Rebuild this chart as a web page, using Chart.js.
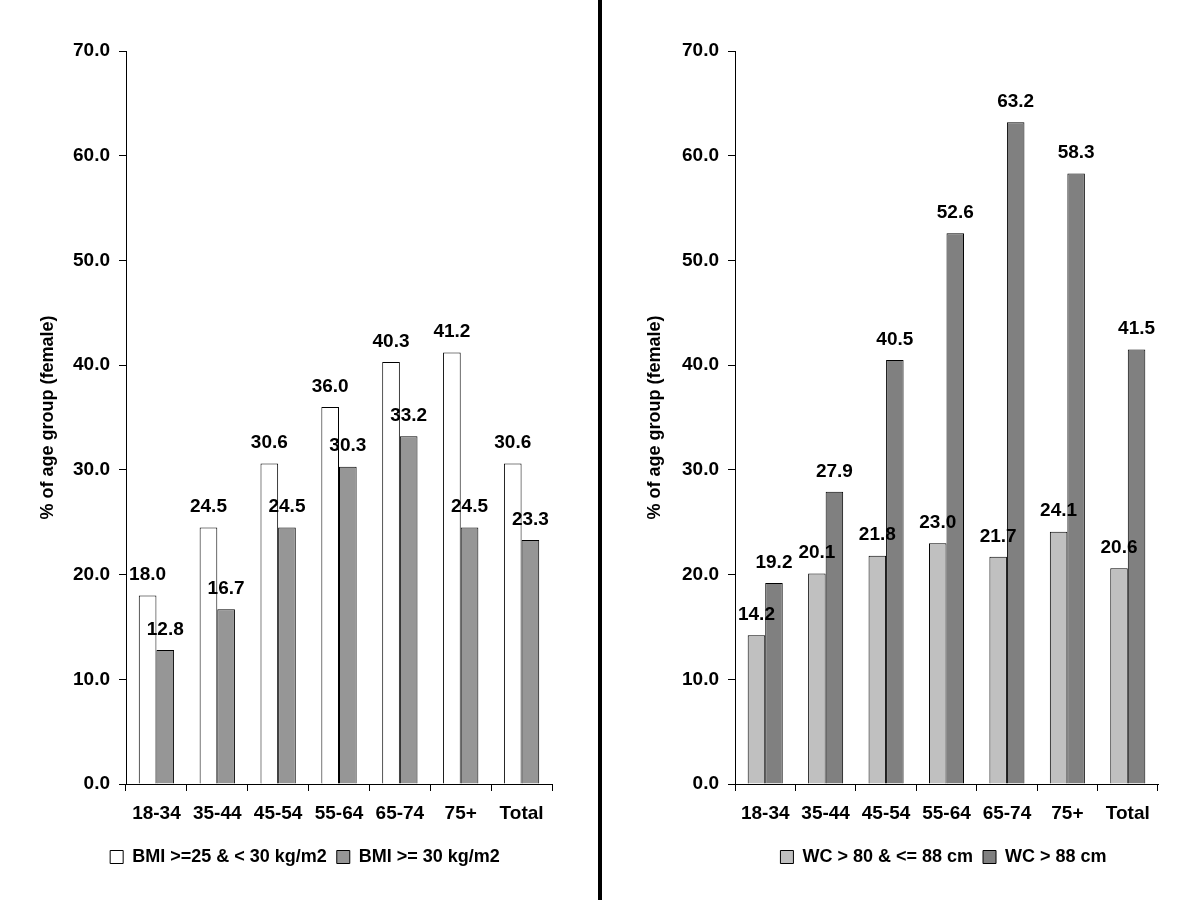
<!DOCTYPE html>
<html>
<head>
<meta charset="utf-8">
<script src="https://cdn.jsdelivr.net/npm/chart.js@4.4.0/dist/chart.umd.min.js"></script>
<style>
    body { margin: 0; background: #fff; }
    #wrap { position: relative; width: 1200px; height: 900px; }
    .box { position: absolute; top: 0; width: 600px; height: 900px; }
    #divider { position: absolute; left: 598px; top: 0; width: 4px; height: 900px; background: #000; }
</style>
</head>
<body>
<div id="wrap">
    <div class="box" style="left:0"><canvas id="bmiChart"></canvas></div>
    <div class="box" style="left:600px"><canvas id="wcChart"></canvas></div>
    <div id="divider"></div>
</div>
<script>
const ageGroups = ['18-34', '35-44', '45-54', '55-64', '65-74', '75+', 'Total'];
const yTicks = [0, 10, 20, 30, 40, 50, 60, 70];

const bmiLabels = ['BMI >=25 & < 30 kg/m2', 'BMI >= 30 kg/m2'];
const bmiOverweight = [18.0, 24.5, 30.6, 36.0, 40.3, 41.2, 30.6];
const bmiObese = [12.8, 16.7, 24.5, 30.3, 33.2, 24.5, 23.3];

const wcLabels = ['WC > 80 & <= 88 cm', 'WC > 88 cm'];
const wcModerate = [14.2, 20.1, 21.8, 23.0, 21.7, 24.1, 20.6];
const wcHigh = [19.2, 27.9, 40.5, 52.6, 63.2, 58.3, 41.5];

const FONT = "'Liberation Sans', Arial, sans-serif";

// draws the value above every bar
const valueLabels = {
    id: 'valueLabels',
    afterDatasetsDraw(chart) {
        const ctx = chart.ctx;
        ctx.save();
        ctx.font = 'bold 19px ' + FONT;
        ctx.fillStyle = '#000';
        ctx.textAlign = 'center';
        ctx.textBaseline = 'bottom';
        chart.data.datasets.forEach((ds, i) => {
            chart.getDatasetMeta(i).data.forEach((bar, j) => {
                ctx.fillText(ds.data[j].toFixed(1), bar.x, bar.y - 11);
            });
        });
        ctx.restore();
    }
};

// nudges the legend sideways
const legendShift = {
    id: 'legendShift',
    afterLayout(chart, args, opts) {
        const l = chart.legend;
        if (l && opts.dx) { l.left += opts.dx; l.right += opts.dx; }
    }
};

function makeChart(id, labels, first, second, colors, layout) {
    const ctx = document.getElementById(id).getContext('2d');
    return new Chart(ctx, {
        type: 'bar',
        data: {
            labels: ageGroups,
            datasets: [{
                label: labels[0],
                data: first,
                backgroundColor: colors[0],
                borderColor: '#000',
                borderWidth: 1
            }, {
                label: labels[1],
                data: second,
                backgroundColor: colors[1],
                borderColor: '#000',
                borderWidth: 1
            }]
        },
        options: {
            responsive: true,
            maintainAspectRatio: false,
            animation: false,
            datasets: { bar: { categoryPercentage: 0.58, barPercentage: 1.0 } },
            layout: { padding: { left: layout.left, right: layout.right, top: 51, bottom: 24 } },
            scales: {
                x: {
                    grid: { offset: true, drawOnChartArea: false, color: '#000', tickLength: 7 },
                    border: { color: '#000', width: 1 },
                    ticks: { color: '#000', font: { family: FONT, size: 19, weight: 'bold' }, padding: 11, maxRotation: 0 },
                    afterFit: s => { s.height = 54; }
                },
                y: {
                    min: 0,
                    max: 70,
                    afterBuildTicks: s => { s.ticks = yTicks.map(v => ({ value: v })); },
                    grid: { drawOnChartArea: false, color: '#000', tickLength: 7 },
                    border: { color: '#000', width: 1 },
                    ticks: {
                        color: '#000',
                        font: { family: FONT, size: 19, weight: 'bold' },
                        padding: 9,
                        callback: v => v.toFixed(1)
                    },
                    title: {
                        display: true,
                        text: '% of age group (female)',
                        color: '#000',
                        font: { family: FONT, size: 18, weight: 'bold' },
                        padding: { top: layout.titlePad, bottom: 0 }
                    },
                    afterFit: s => { s.width = layout.axisWidth; }
                }
            },
            plugins: {
                legend: {
                    position: 'bottom',
                    labels: {
                        color: '#000',
                        font: { family: FONT, size: 18, weight: 'bold' },
                        boxWidth: 13,
                        boxHeight: 13,
                        padding: 10
                    }
                },
                tooltip: { enabled: false },
                legendShift: { dx: layout.legendDx }
            }
        },
        plugins: [valueLabels, legendShift]
    });
}

makeChart('bmiChart', bmiLabels, bmiOverweight, bmiObese, ['#ffffff', '#969696'],
    { left: 30, right: 48, axisWidth: 96, titlePad: 7, legendDx: 14 });
makeChart('wcChart', wcLabels, wcModerate, wcHigh, ['#c0c0c0', '#808080'],
    { left: 35, right: 42, axisWidth: 100, titlePad: 9, legendDx: 47 });
</script>
</body>
</html>
